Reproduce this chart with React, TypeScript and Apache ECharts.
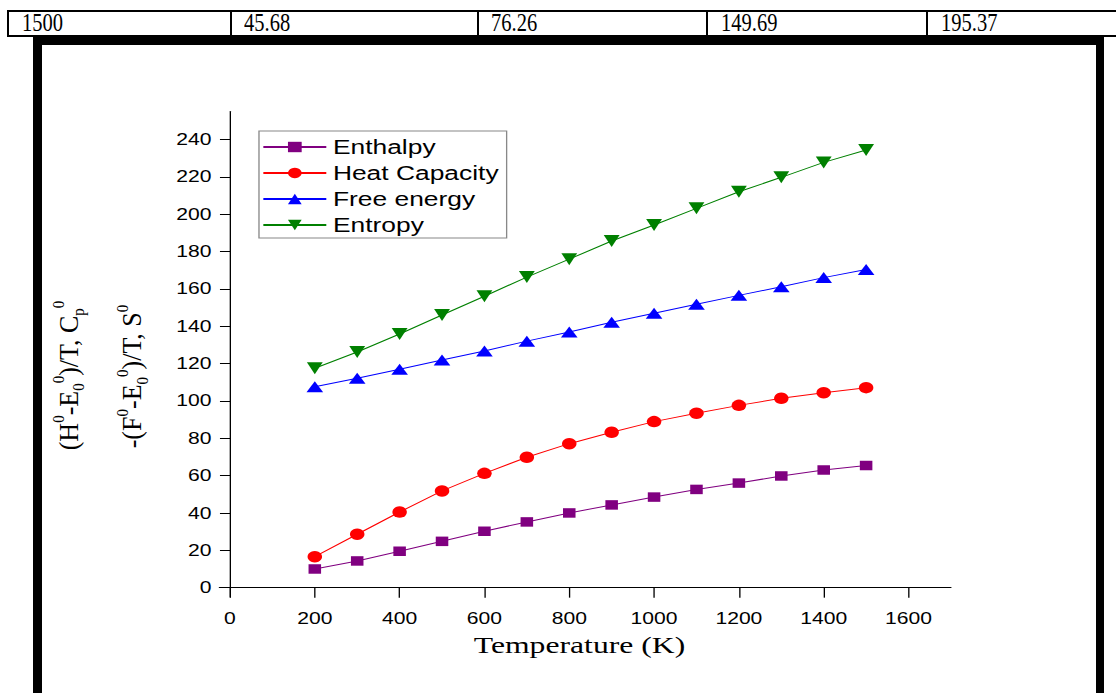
import React, { useEffect, useRef } from "react";
import * as echarts from "echarts";

// ---- data ----
const temperatures = [200, 300, 400, 500, 600, 700, 800, 900, 1000, 1100, 1200, 1300, 1400, 1500];
const enthalpy = [10.0, 14.3, 19.5, 24.8, 30.2, 35.2, 40.0, 44.3, 48.5, 52.6, 56.0, 59.8, 63.0, 65.4];
const heatCapacity = [16.6, 28.6, 40.5, 51.8, 61.2, 69.8, 77.1, 83.2, 88.9, 93.4, 97.6, 101.4, 104.4, 107.1];
const freeEnergy = [107.6, 112.1, 116.9, 121.9, 126.7, 132.0, 136.9, 142.1, 146.9, 151.7, 156.5, 161.1, 166.0, 170.4];
const entropy = [117.5, 126.2, 135.8, 146.0, 156.0, 166.3, 175.9, 185.6, 194.2, 203.1, 212.0, 219.7, 227.7, 234.3];
const seriesNames = ["Enthalpy", "Heat Capacity", "Free energy", "Entropy"];
const xTickValues = [0, 200, 400, 600, 800, 1000, 1200, 1400, 1600];
const yTickValues = [0, 20, 40, 60, 80, 100, 120, 140, 160, 180, 200, 220, 240];
const tableCells = ["1500", "45.68", "76.26", "149.69", "195.37"];

// ---- layout ----
const S = 1.32; // horizontal stretch of the embedded chart picture
const PAGE_W = 1116;
const PAGE_H = 693;
const CHART_W = PAGE_W / S;
const cellTextLeft = [22, 244, 491, 721, 941];
const dividerX = [230, 477, 706, 926];

const SANS = "'Liberation Sans', Arial, sans-serif";
const SERIF = "'Liberation Serif', 'Times New Roman', serif";

function buildOption() {
  const pts = (vals: number[]) => temperatures.map((t, i) => [t, vals[i]]);
  const richY = {
    n: { fontSize: 26, fontFamily: SERIF, lineHeight: 34, verticalAlign: "middle", fill: "#000", color: "#000" },
    sup: { fontSize: 15, fontFamily: SERIF, lineHeight: 15, verticalAlign: "top", fill: "#000", color: "#000" },
    sub: { fontSize: 15, fontFamily: SERIF, lineHeight: 15, verticalAlign: "bottom", fill: "#000", color: "#000" },
  };
  const plain = (v: number) => String(v);
  return {
    animation: false,
    grid: {
      left: 166.2,
      top: 111.4,
      width: 554.2,
      height: 485.6,
      containLabel: false,
      outerBoundsMode: "none",
    },
    legend: {
      orient: "vertical",
      left: 196.2,
      top: 131,
      itemWidth: 47.7,
      itemHeight: 13,
      itemGap: 6,
      padding: [6, 6, 3, 2.3],
      borderColor: "#888",
      borderWidth: 1,
      borderRadius: 0,
      backgroundColor: "#fff",
      textStyle: { fontSize: 20, fontFamily: SANS, color: "#000", lineHeight: 20 },
      data: seriesNames,
    },
    xAxis: {
      type: "value",
      min: -25,
      max: 1700,
      splitLine: { show: false },
      axisLine: { show: true, onZero: true, lineStyle: { color: "#000", width: 1 } },
      axisTick: { show: true, customValues: xTickValues, length: 10, lineStyle: { color: "#000", width: 1 } },
      axisLabel: {
        customValues: xTickValues,
        formatter: plain,
        margin: 13,
        color: "#000",
        fontSize: 16,
        fontFamily: SANS,
      },
    },
    yAxis: {
      type: "value",
      min: -5,
      max: 255,
      splitLine: { show: false },
      axisLine: { show: true, onZero: true, lineStyle: { color: "#000", width: 1 } },
      axisTick: { show: true, customValues: yTickValues, length: 7.6, lineStyle: { color: "#000", width: 1 } },
      axisLabel: {
        customValues: yTickValues,
        formatter: plain,
        margin: 6,
        color: "#000",
        fontSize: 16,
        fontFamily: SANS,
      },
    },
    series: [
      {
        name: seriesNames[0],
        type: "line",
        data: pts(enthalpy),
        symbol: "rect",
        symbolSize: [9.5, 9.5],
        itemStyle: { color: "#800080" },
        lineStyle: { color: "#800080", width: 1 },
      },
      {
        name: seriesNames[1],
        type: "line",
        data: pts(heatCapacity),
        symbol: "circle",
        symbolSize: [11, 11.5],
        itemStyle: { color: "#ff0000" },
        lineStyle: { color: "#ff0000", width: 1 },
      },
      {
        name: seriesNames[2],
        type: "line",
        data: pts(freeEnergy),
        symbol: "triangle",
        symbolSize: [12.6, 11],
        itemStyle: { color: "#0000ff" },
        lineStyle: { color: "#0000ff", width: 1 },
      },
      {
        name: seriesNames[3],
        type: "line",
        data: pts(entropy),
        symbol: "triangle",
        symbolRotate: 180,
        symbolSize: [12, 12],
        itemStyle: { color: "#008000" },
        lineStyle: { color: "#008000", width: 1 },
      },
    ],
    graphic: [
      {
        type: "text",
        x: 52,
        y: 375.5,
        rotation: Math.PI / 2,
        scaleY: 0.8,
        style: {
          text: "{n|(H}{sup|0}{n|-E}{sub|0}{sup|0}{n|)/T, C}{sub|p}{sup|0}",
          rich: richY,
          align: "center",
          verticalAlign: "middle",
          textAlign: "center",
          textVerticalAlign: "middle",
          fill: "#000",
        },
      },
      {
        type: "text",
        x: 100,
        y: 376.5,
        rotation: Math.PI / 2,
        scaleY: 0.8,
        style: {
          text: "{n|-(F}{sup|0}{n|-E}{sub|0}{sup|0}{n|)/T, S}{sup|0}",
          rich: richY,
          align: "center",
          verticalAlign: "middle",
          textAlign: "center",
          textVerticalAlign: "middle",
          fill: "#000",
        },
      },
      {
        type: "text",
        x: 439,
        y: 645,
        style: {
          text: "Temperature (K)",
          fontSize: 24,
          fontFamily: SERIF,
          align: "center",
          verticalAlign: "middle",
          textAlign: "center",
          textVerticalAlign: "middle",
          fill: "#000",
        },
      },
    ],
  };
}

const black = "#000";

export default function App() {
  const ref = useRef<HTMLDivElement>(null);
  useEffect(() => {
    if (!ref.current) return;
    const chart = echarts.init(ref.current, null, { renderer: "svg" });
    chart.setOption(buildOption() as any);
    return () => chart.dispose();
  }, []);

  const box = (left: number, top: number, width: number, height: number, key: string) => (
    <div key={key} style={{ position: "absolute", left, top, width, height, background: black }} />
  );

  return (
    <div
      style={{
        position: "absolute",
        left: 0,
        top: 0,
        width: PAGE_W,
        height: PAGE_H,
        overflow: "hidden",
        background: "#fff",
      }}
    >
      {/* table row */}
      {box(7, 10, PAGE_W - 7, 2, "tTop")}
      {box(7, 10, 2, 27, "tLeft")}
      {box(7, 35, PAGE_W - 7, 2, "tBottom")}
      {dividerX.map((x, i) => box(x, 10, 1.6, 26, "div" + i))}
      {tableCells.map((t, i) => (
        <div
          key={"cell" + i}
          style={{
            position: "absolute",
            left: cellTextLeft[i],
            top: 10,
            fontFamily: SERIF,
            fontSize: 25,
            lineHeight: "25px",
            color: black,
            whiteSpace: "nowrap",
            transform: "scaleX(0.82)",
            transformOrigin: "0 0",
          }}
        >
          {t}
        </div>
      ))}
      {/* thick frame */}
      {box(33, 36, 1071, 9, "fTop")}
      {box(33, 36, 9, PAGE_H - 36, "fLeft")}
      {box(1096, 36, 8, PAGE_H - 36, "fRight")}
      {/* chart */}
      <div
        ref={ref}
        style={{
          position: "absolute",
          left: 0,
          top: 0,
          width: CHART_W,
          height: PAGE_H,
          transform: `scaleX(${S})`,
          transformOrigin: "0 0",
        }}
      />
    </div>
  );
}
